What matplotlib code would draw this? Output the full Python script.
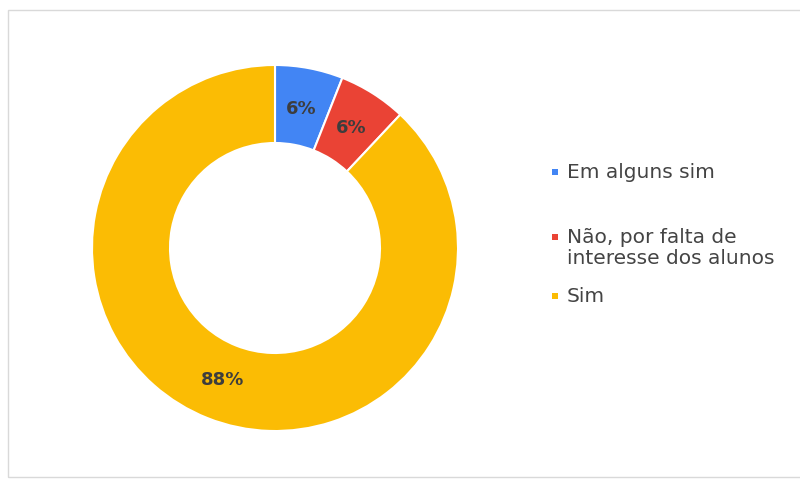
import matplotlib.pyplot as plt
from matplotlib.patches import Rectangle

# Resposta dos professores
categorias = ['Em alguns sim', 'Não, por falta de\ninteresse dos alunos', 'Sim']
percentuais = [6, 6, 88]
cores = ['#4285F4', '#EA4335', '#FBBC04']

W, H = 800, 479
fig = plt.figure(figsize=(W / 100, H / 100), dpi=100)
ax = fig.add_axes([0, 0, 1, 1])

# donut, starting at the top and going clockwise
cx, cy = 275, H - 248
r_out, r_in = 183, 105
wedges, textos, autotextos = ax.pie(
    percentuais, colors=cores, startangle=90, counterclock=False,
    center=(cx, cy), radius=r_out,
    wedgeprops=dict(width=r_out - r_in, edgecolor='white', linewidth=1.5),
    autopct=lambda p: f'{p:.0f}%', pctdistance=0.775,
    textprops=dict(fontsize=13, fontweight='bold', color='#3d3d3d'))

# legend on the right
leg_y = [172, 237, 296]
for cor, nome, y in zip(cores, categorias, leg_y):
    ax.add_patch(Rectangle((552, H - y - 3), 6, 6, color=cor, lw=0))
    for i, linha in enumerate(nome.split('\n')):
        ax.text(567, H - y - i * 21, linha, fontsize=14.5, color='#444444', va='center')

# card border
ax.add_patch(Rectangle((8, H - 477), 820, 467, fill=False, edgecolor='#d9d9d9', lw=1))

ax.set_xlim(0, W)
ax.set_ylim(0, H)
ax.set_aspect('auto')
ax.axis('off')

fig.savefig('out.png', dpi=100)
